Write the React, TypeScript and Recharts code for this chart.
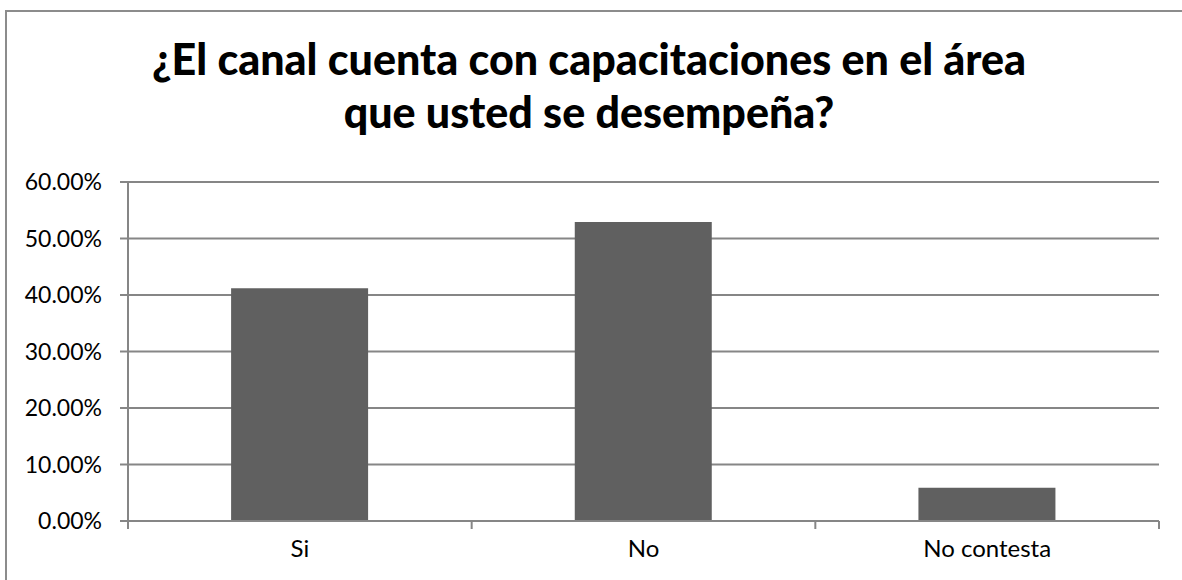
import React from 'react';
import { BarChart, Bar, XAxis, YAxis, CartesianGrid } from 'recharts';

const categories = ['Si', 'No', 'No contesta'];
const shares = [41.18, 52.94, 5.88];
const yTicks = [0, 10, 20, 30, 40, 50, 60];
const titleLines = ['¿El canal cuenta con capacitaciones en el área', 'que usted se desempeña?'];

const data = categories.map((name, i) => ({ name, value: shares[i] }));

const FONT = 'Lato, "Open Sans", sans-serif';
const AXIS = '#868686';

// labels sit in the middle of each category, tick marks on the boundaries
const CategoryTick = (props: any) => {
  const { x, y, payload, width, visibleTicksCount, index } = props;
  const half = width / (2 * visibleTicksCount);
  const axisY = y - 8;
  return (
    <g>
      <line x1={x - half} x2={x - half} y1={axisY} y2={axisY + 8} stroke={AXIS} strokeWidth={2} />
      {index === visibleTicksCount - 1 && (
        <line x1={x + half} x2={x + half} y1={axisY} y2={axisY + 8} stroke={AXIS} strokeWidth={2} />
      )}
      <text x={x} y={axisY + 36} textAnchor="middle" fontSize={24} fontFamily={FONT} fill="#000">
        {payload.value}
      </text>
    </g>
  );
};

const App: React.FC = () => (
  <div style={{ position: 'absolute', left: 0, top: 0, width: 1182, height: 580, overflow: 'hidden', background: '#fff' }}>
    <div
      style={{
        position: 'absolute',
        left: 5,
        top: 10,
        width: 1200,
        height: 600,
        border: '2px solid #8c8c8c',
        boxSizing: 'border-box',
      }}
    />
    <svg width={1182} height={160} style={{ position: 'absolute', left: 0, top: 0 }}>
      {titleLines.map((t, i) => (
        <text key={t} x={589} y={75 + i * 53} textAnchor="middle" fontSize={43} fontWeight={900} fontFamily={FONT} fill="#000">
          {t}
        </text>
      ))}
    </svg>
    <div style={{ position: 'absolute', left: 0, top: 0 }}>
      <BarChart width={1182} height={580} data={data} margin={{ top: 182, right: 23, bottom: 19, left: 0 }} barCategoryGap="30%">
        <CartesianGrid vertical={false} stroke={AXIS} strokeWidth={2} />
        <XAxis
          dataKey="name"
          height={40}
          axisLine={{ stroke: AXIS, strokeWidth: 2 }}
          tickLine={false}
          tickSize={8}
          tickMargin={0}
          interval={0}
          tick={<CategoryTick />}
        />
        <YAxis
          width={128}
          domain={[0, 60]}
          ticks={yTicks}
          interval={0}
          axisLine={{ stroke: AXIS, strokeWidth: 2 }}
          tickLine={{ stroke: AXIS, strokeWidth: 2 }}
          tickSize={8}
          tickMargin={18}
          tickFormatter={(v: number) => `${v.toFixed(2)}%`}
          tick={{ fontSize: 23, fontFamily: FONT, fill: '#000' }}
        />
        <Bar dataKey="value" fill="#606060" isAnimationActive={false} />
      </BarChart>
    </div>
  </div>
);

export default App;
